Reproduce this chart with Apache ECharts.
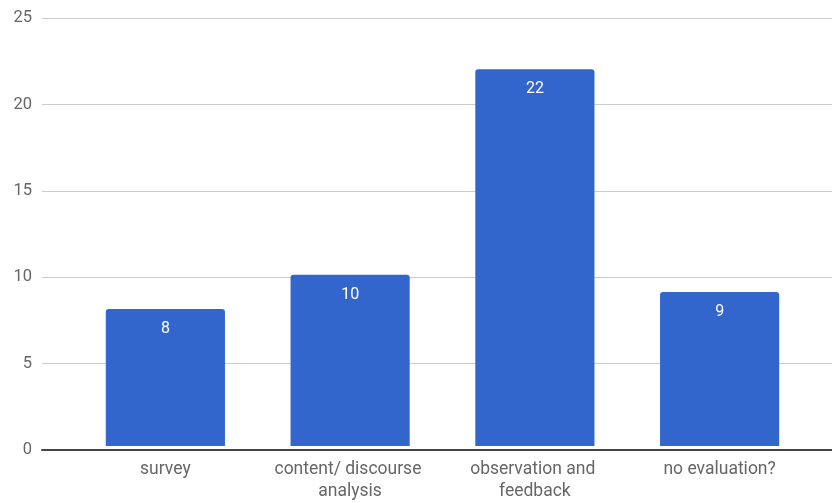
<!DOCTYPE html>
<html>
<head>
<meta charset="utf-8">
<script src="https://cdn.jsdelivr.net/npm/echarts@6/dist/echarts.min.js"></script>
<style>
  html, body { margin: 0; padding: 0; background: #fff; }
  #chart { width: 832px; height: 503px; }
</style>
</head>
<body>
<div id="chart"></div>
<script>
// Evaluation methods and how many times each was used
const categories = ['survey', 'content/ discourse analysis', 'observation and feedback', 'no evaluation?'];
const counts = [8, 10, 22, 9];
const yTicks = { min: 0, max: 25, interval: 5 };

const chart = echarts.init(document.getElementById('chart'), null, { renderer: 'canvas' });
const font = 'Roboto, "Noto Sans", sans-serif';
const textColor = '#666666';

chart.setOption({
  animation: false,
  grid: [
    // full-width grid carrying gridlines, y labels and baseline
    { left: 42, right: 0, top: 18, bottom: 53 },
    // inner grid carrying the bars and category labels
    { left: 73, right: 20, top: 18, bottom: 53 }
  ],
  xAxis: [
    {
      gridIndex: 0, type: 'category', data: [''],
      axisLine: { show: true, lineStyle: { color: '#444', width: 2 } },
      axisTick: { show: false }, axisLabel: { show: false }, splitLine: { show: false }
    },
    {
      gridIndex: 1, type: 'category', data: categories,
      axisLine: { show: false }, axisTick: { show: false },
      axisLabel: {
        color: textColor, fontFamily: font, fontSize: 17.5, margin: 13,
        lineHeight: 22, width: 170, overflow: 'break', interval: 0
      }
    }
  ],
  yAxis: [
    {
      gridIndex: 0, type: 'value', min: yTicks.min, max: yTicks.max, interval: yTicks.interval,
      axisLine: { show: false }, axisTick: { show: false },
      axisLabel: { color: textColor, fontFamily: font, fontSize: 16.5, margin: 10 },
      splitLine: { lineStyle: { color: '#cccccc', width: 1 } }
    },
    {
      gridIndex: 1, type: 'value', min: yTicks.min, max: yTicks.max, interval: yTicks.interval,
      show: false, splitLine: { show: false }
    }
  ],
  series: [{
    type: 'bar',
    xAxisIndex: 1, yAxisIndex: 1,
    data: counts,
    barCategoryGap: '35.5%',
    itemStyle: { color: '#3266cc', borderRadius: [3, 3, 0, 0] },
    label: {
      show: true, position: 'insideTop', distance: 12,
      color: '#ffffff', fontFamily: font, fontSize: 16
    }
  }]
});
</script>
</body>
</html>
